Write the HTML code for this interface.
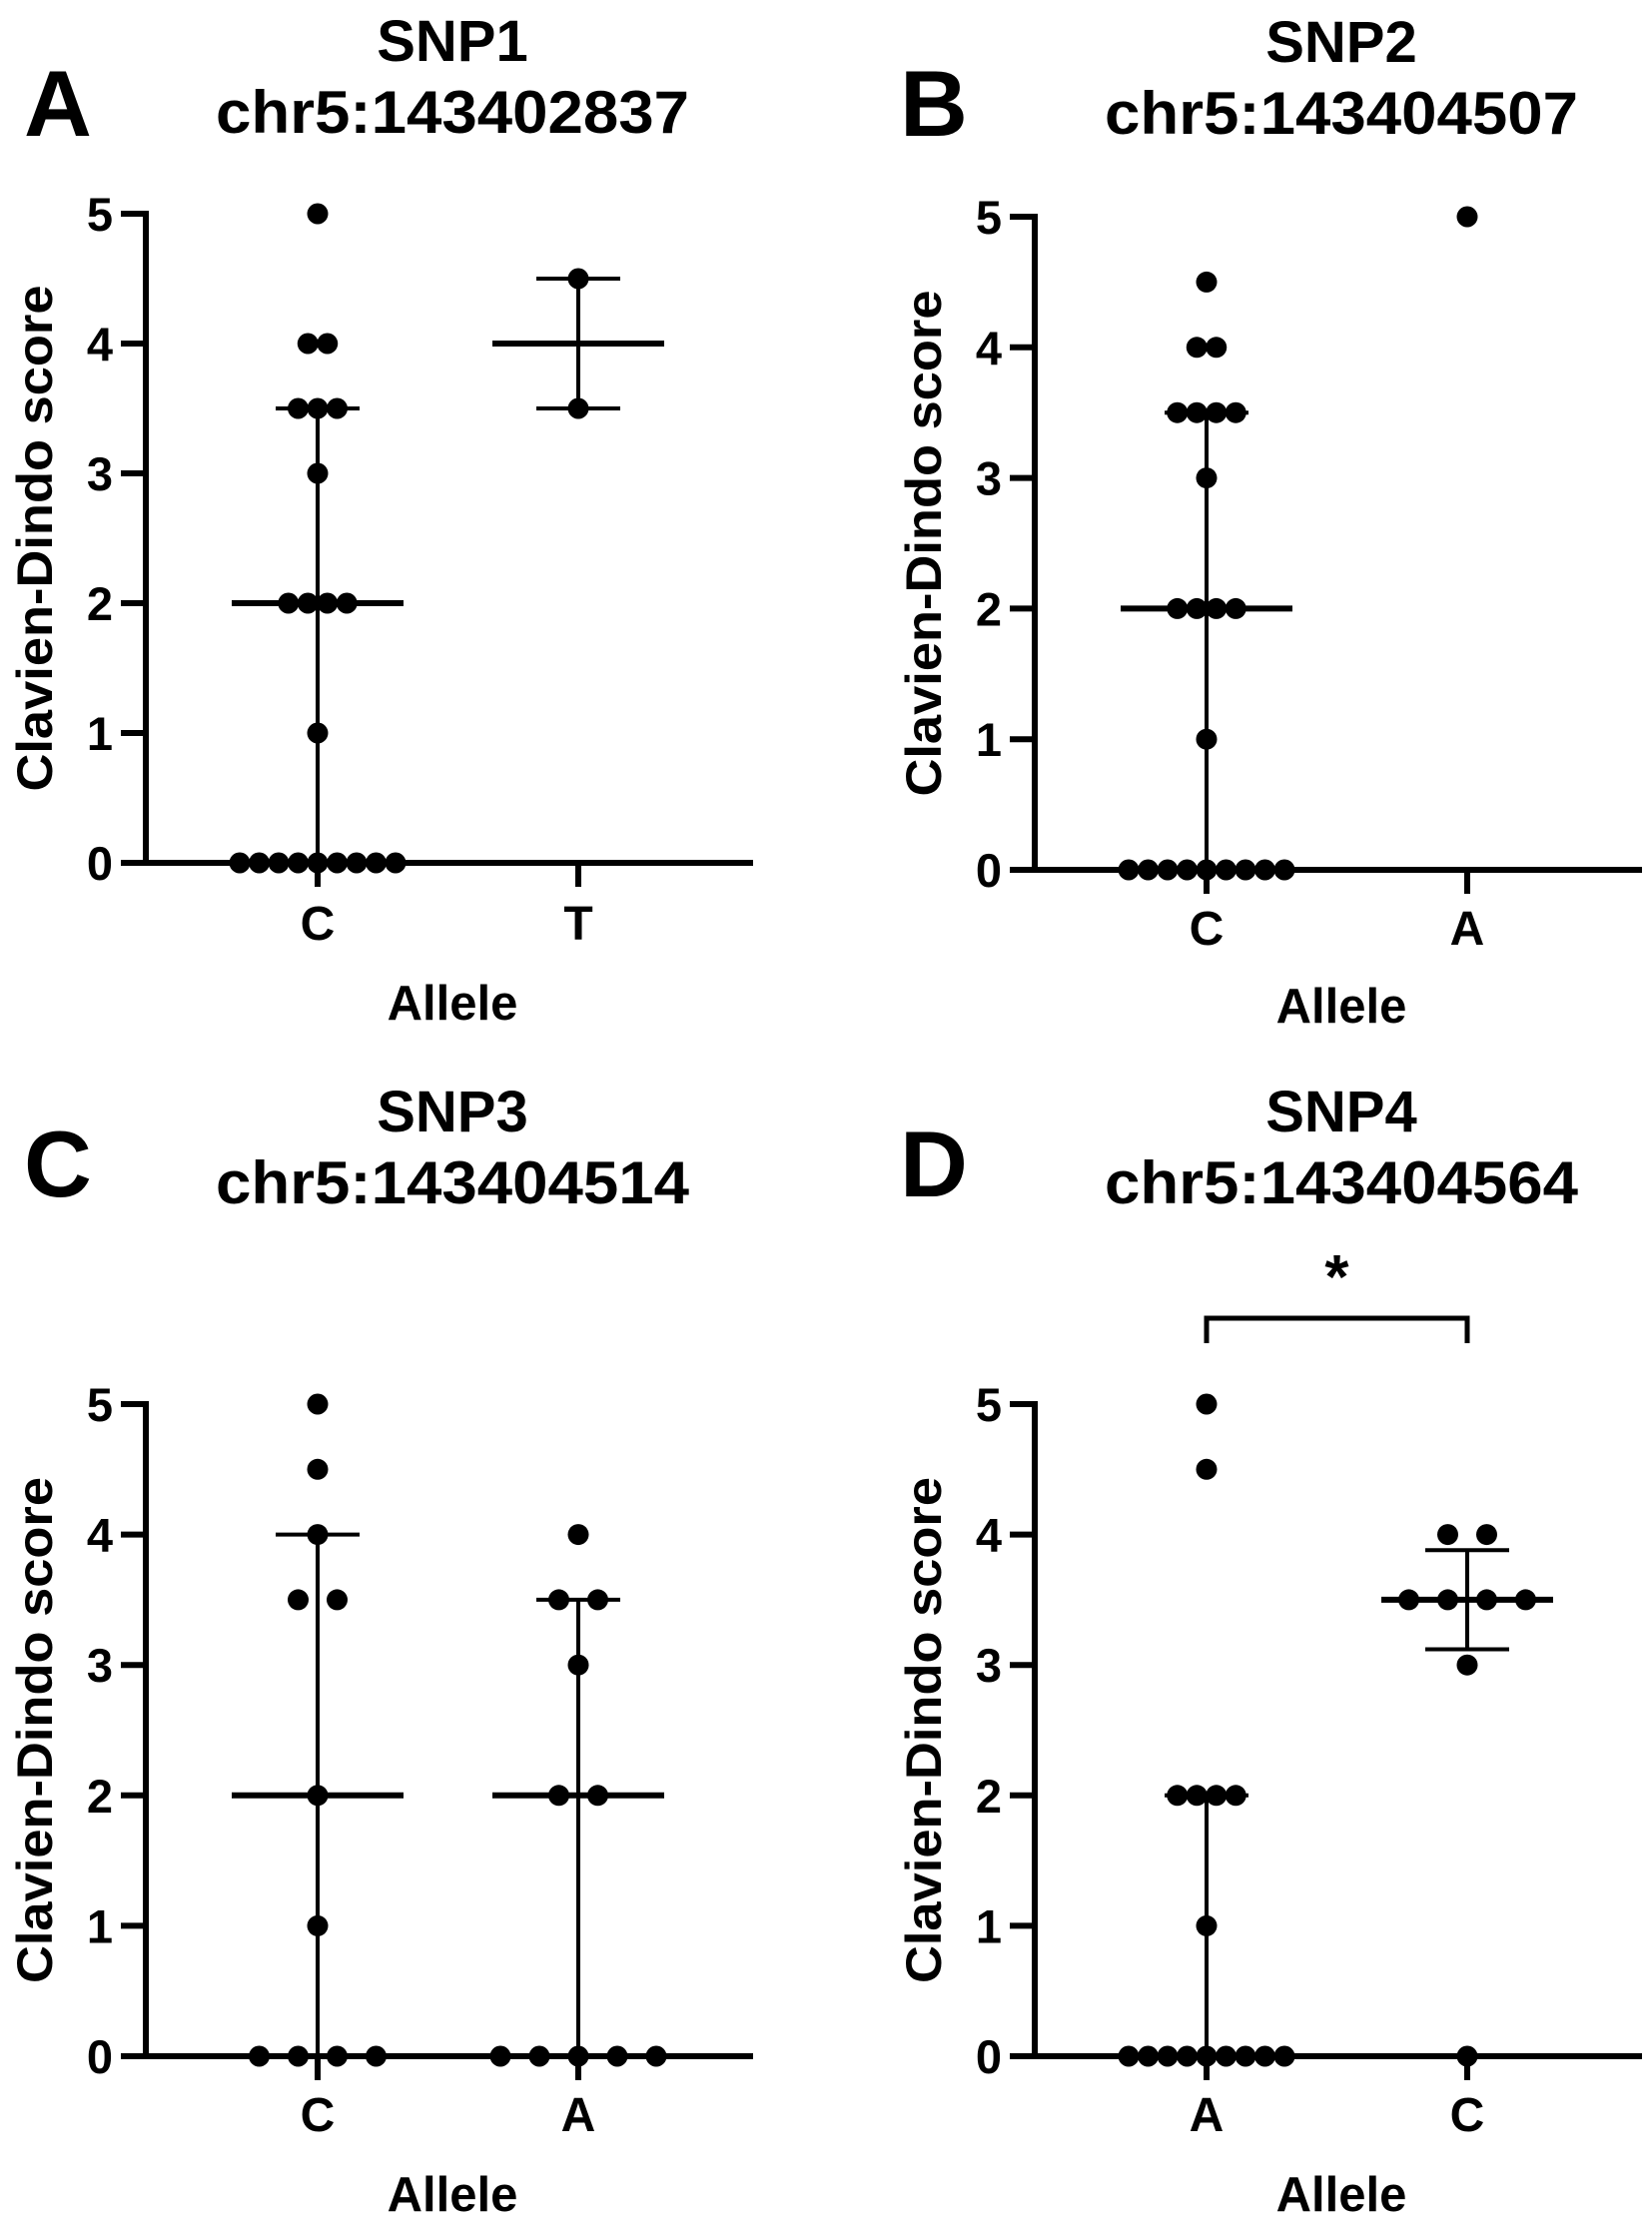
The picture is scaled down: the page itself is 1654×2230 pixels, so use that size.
<!DOCTYPE html>
<html><head><meta charset="utf-8"><style>
html,body{margin:0;padding:0;background:#fff}
svg{display:block}
text{font-family:"Liberation Sans",Arial,sans-serif;font-weight:bold;fill:#000}
</style></head><body>
<svg id="fig" width="1654" height="2230" viewBox="0 0 1654 2230" xmlns="http://www.w3.org/2000/svg"></svg>
<script>
// ---- data ----
const yTicks = [0, 1, 2, 3, 4, 5];
const panelLetters = ["A", "B", "C", "D"];
const snpNames = ["SNP1", "SNP2", "SNP3", "SNP4"];
const positions = ["chr5:143402837", "chr5:143404507", "chr5:143404514", "chr5:143404564"];
const categoriesA = ["C", "T"];
const categoriesB = ["C", "A"];
const categoriesC = ["C", "A"];
const categoriesD = ["A", "C"];
const valuesA1 = [5, 4, 4, 3.5, 3.5, 3.5, 3, 2, 2, 2, 2, 1, 0, 0, 0, 0, 0, 0, 0, 0, 0];
const valuesA2 = [4.5, 3.5];
const valuesB1 = [4.5, 4, 4, 3.5, 3.5, 3.5, 3.5, 3, 2, 2, 2, 2, 1, 0, 0, 0, 0, 0, 0, 0, 0, 0];
const valuesB2 = [5];
const valuesC1 = [5, 4.5, 4, 3.5, 3.5, 2, 1, 0, 0, 0, 0];
const valuesC2 = [4, 3.5, 3.5, 3, 2, 2, 0, 0, 0, 0, 0];
const valuesD1 = [5, 4.5, 2, 2, 2, 2, 1, 0, 0, 0, 0, 0, 0, 0, 0, 0];
const valuesD2 = [4, 4, 3.5, 3.5, 3.5, 3.5, 3, 0];
// summary: [median, lower, upper] (null = no bars)
const summaryA = [[2, 0, 3.5], [4, 3.5, 4.5]];
const summaryB = [[2, 0, 3.5], null];
const summaryC = [[2, 0, 4], [2, 0, 3.5]];
const summaryD = [[0, 0, 2], [3.5, 3.12, 3.88]];

const NS = "http://www.w3.org/2000/svg";
const svg = document.getElementById("fig");
function mk(tag, attrs, parent) {
  const e = document.createElementNS(NS, tag);
  for (const k in attrs) e.setAttribute(k, attrs[k]);
  (parent || svg).appendChild(e);
  return e;
}

const panels = [
  {ox: 146, y5: 214, y0: 864, titleY: 61, letterY: 136, letterX: 58, tickY: 941, allY: 1021, cats: categoriesA, vals: [valuesA1, valuesA2], sum: summaryA, sp: [19.5, 20]},
  {ox: 1036, y5: 217, y0: 871, titleY: 62, letterY: 136, letterX: 935, tickY: 946, allY: 1024, cats: categoriesB, vals: [valuesB1, valuesB2], sum: summaryB, sp: [19.5, 20]},
  {ox: 146, y5: 1406, y0: 2059, titleY: 1133, letterY: 1198, letterX: 58, tickY: 2134, allY: 2214, cats: categoriesC, vals: [valuesC1, valuesC2], sum: summaryC, sp: [39, 39]},
  {ox: 1036, y5: 1406, y0: 2059, titleY: 1133, letterY: 1198, letterX: 935, tickY: 2134, allY: 2214, cats: categoriesD, vals: [valuesD1, valuesD2], sum: summaryD, sp: [19.5, 39]}
];

panels.forEach((p, i) => {
  const g = mk("g", {});
  
  
  const yS = v => p.y0 - (p.y0 - p.y5) * v / 5;
  const xS = k => p.ox + 172 + 261 * k;
  const cx = p.ox + 307;

  const L = mk("text", {x: p.letterX, y: p.letterY, "text-anchor": "middle", "font-size": 94}, g);
  L.textContent = panelLetters[i];
  
  
  const t1 = mk("text", {x: cx, y: p.titleY, "text-anchor": "middle", "font-size": 58}, g);
  t1.textContent = snpNames[i];
  
  
  const t2 = mk("text", {x: cx, y: p.titleY + 72, "text-anchor": "middle", "font-size": 60, textLength: 474, lengthAdjust: "spacingAndGlyphs"}, g);
  t2.textContent = positions[i];
  
  

  // axes
  const ya = mk("line", {x1: p.ox, y1: p.y5 - 3, x2: p.ox, y2: p.y0 + 3, stroke: "#000", "stroke-width": 6}, g);
  
  
  const xa = mk("line", {x1: p.ox - 3, y1: p.y0, x2: p.ox + 608, y2: p.y0, stroke: "#000", "stroke-width": 6}, g);
  
  
  yTicks.forEach(t => {
    mk("line", {x1: p.ox - 25, y1: yS(t), x2: p.ox, y2: yS(t), stroke: "#000", "stroke-width": 6}, g);
    const tl = mk("text", {x: p.ox - 33, y: yS(t) + 17, "text-anchor": "end", "font-size": 47}, g);
    tl.textContent = t;
    
    
  });
  const yt = mk("text", {x: 0, y: 0, "text-anchor": "middle", "font-size": 50, textLength: 507, lengthAdjust: "spacingAndGlyphs", transform: `translate(${p.ox - 94},${yS(2.5)}) rotate(-90)`}, g);
  yt.textContent = "Clavien-Dindo score";
  
  
  p.cats.forEach((c, k) => {
    mk("line", {x1: xS(k), y1: p.y0, x2: xS(k), y2: p.y0 + 24, stroke: "#000", "stroke-width": 6}, g);
    const cl = mk("text", {x: xS(k), y: p.tickY, "text-anchor": "middle", "font-size": 48}, g);
    cl.textContent = c;
    
    
  });
  const al = mk("text", {x: cx, y: p.allY, "text-anchor": "middle", "font-size": 49}, g);
  al.textContent = "Allele";
  
  

  // summary bars
  p.sum.forEach((s, k) => {
    if (!s) return;
    const x = xS(k);
    mk("line", {x1: x, y1: yS(s[1]), x2: x, y2: yS(s[2]), stroke: "#000", "stroke-width": 4}, g);
    mk("line", {x1: x - 42, y1: yS(s[2]), x2: x + 42, y2: yS(s[2]), stroke: "#000", "stroke-width": 4}, g);
    if (s[1] > 0) mk("line", {x1: x - 42, y1: yS(s[1]), x2: x + 42, y2: yS(s[1]), stroke: "#000", "stroke-width": 4}, g);
    const m = mk("line", {x1: x - 86, y1: yS(s[0]), x2: x + 86, y2: yS(s[0]), stroke: "#000", "stroke-width": 6}, g);
    
    
  });

  // dots
  p.vals.forEach((arr, k) => {
    const counts = {};
    arr.forEach(v => counts[v] = (counts[v] || 0) + 1);
    const idx = {};
    arr.forEach(v => {
      const n = counts[v];
      const j = idx[v] = (idx[v] === undefined ? 0 : idx[v] + 1);
      const x = xS(k) + (j - (n - 1) / 2) * p.sp[k];
      const d = mk("circle", {cx: x, cy: yS(v), r: 10.5, fill: "#000"}, g);
      
      
    });
  });

  if (i === 3) {
    const b = mk("path", {d: `M${xS(0)},1345 V1320 H${xS(1)} V1345`, fill: "none", stroke: "#000", "stroke-width": 5}, g);
    
    
    const st = mk("text", {x: (xS(0) + xS(1)) / 2, y: 1300, "text-anchor": "middle", "font-size": 62}, g);
    st.textContent = "*";
    
    
  }
});
</script>
</body></html>
